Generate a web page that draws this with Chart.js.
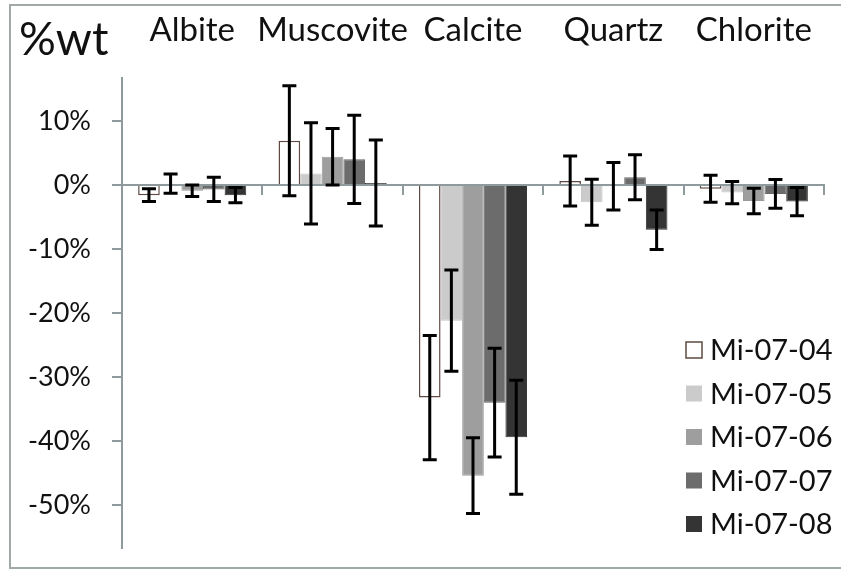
<!DOCTYPE html>
<html>
<head>
<meta charset="utf-8">
<script src="https://cdn.jsdelivr.net/npm/chart.js@4"></script>
<style>
  body { margin: 0; background: #fff; }
  #wrap { width: 841px; height: 570px; position: relative; }
</style>
</head>
<body>
<div id="wrap"><canvas id="chart"></canvas></div>
<script>
// categories and tick labels
const minerals = ['Albite', 'Muscovite', 'Calcite', 'Quartz', 'Chlorite'];
const yTicks = [10, 0, -10, -20, -30, -40, -50];
const sampleNames = ['Mi-07-04', 'Mi-07-05', 'Mi-07-06', 'Mi-07-07', 'Mi-07-08'];

// % change per sample
const mi0704 = [-1.6, 6.9, -33.2, 0.6, -0.6];
const mi0705 = [0.2, 1.8, -21.2, -2.7, -1.2];
const mi0706 = [-0.9, 4.4, -45.4, -0.2, -2.5];
const mi0707 = [-0.7, 4.0, -34.0, 1.2, -1.4];
const mi0708 = [-1.6, 0.3, -39.4, -7.0, -2.6];

// error bar half lengths
const err0704 = [1.0, 8.6, 9.7, 3.9, 2.1];
const err0705 = [1.5, 7.9, 7.9, 3.6, 1.75];
const err0706 = [0.9, 4.4, 5.9, 3.7, 2.0];
const err0707 = [1.9, 6.9, 8.5, 3.5, 2.25];
const err0708 = [1.2, 6.7, 8.9, 3.1, 2.2];

const seriesValues = [mi0704, mi0705, mi0706, mi0707, mi0708];
const seriesErrors = [err0704, err0705, err0706, err0707, err0708];
const fills = ['#ffffff', '#cbcbcb', '#9e9e9e', '#6c6c6c', '#343434'];
const borders = ['#5e4a42', '#c6c6c6', '#9a9a9a', '#686868', '#303030'];

const axisGray = '#8e9a9b';
const FONT = 'Lato, "Open Sans", sans-serif';

// error bars drawn on top of the bars
const errorBars = {
    id: 'errorBars',
    afterDatasetsDraw(chart) {
        const ctx = chart.ctx;
        const y = chart.scales.y;
        ctx.save();
        ctx.strokeStyle = '#000';
        ctx.lineWidth = 3;
        chart.data.datasets.forEach((ds, i) => {
            const meta = chart.getDatasetMeta(i);
            meta.data.forEach((bar, j) => {
                const v = ds.data[j];
                const e = seriesErrors[i][j];
                const top = y.getPixelForValue(v + e);
                const bot = y.getPixelForValue(v - e);
                ctx.beginPath();
                ctx.moveTo(bar.x, top);
                ctx.lineTo(bar.x, bot);
                ctx.moveTo(bar.x - 7, top);
                ctx.lineTo(bar.x + 7, top);
                ctx.moveTo(bar.x - 7, bot);
                ctx.lineTo(bar.x + 7, bot);
                ctx.stroke();
            });
        });
        ctx.restore();
    }
};

// frame, "%wt" heading and the legend box inside the plot
const extras = {
    id: 'extras',
    afterDraw(chart) {
        const ctx = chart.ctx;
        ctx.save();
        ctx.strokeStyle = '#a0a8a8';
        ctx.lineWidth = 2;
        ctx.strokeRect(10, 5, 850, 563);

        ctx.fillStyle = '#111';
        ctx.font = '46px ' + FONT;
        ctx.textBaseline = 'alphabetic';
        ctx.fillText('%wt', 19, 55);

        ctx.font = '29px ' + FONT;
        ctx.textBaseline = 'middle';
        chart.data.datasets.forEach((ds, i) => {
            const cy = 350 + i * 43.5;
            ctx.fillStyle = ds.backgroundColor;
            ctx.fillRect(686, cy - 8, 16, 16);
            if (i === 0) {
                ctx.strokeStyle = ds.borderColor;
                ctx.lineWidth = 1.5;
                ctx.strokeRect(686, cy - 8, 16, 16);
            }
            ctx.fillStyle = '#111';
            ctx.fillText(ds.label, 710, cy + 1);
        });
        ctx.restore();
    }
};

new Chart(document.getElementById('chart'), {
    type: 'bar',
    data: {
        labels: minerals,
        datasets: sampleNames.map((name, i) => ({
            label: name,
            data: seriesValues[i],
            backgroundColor: fills[i],
            borderColor: borders[i],
            borderWidth: i === 0 ? 1.5 : 1,
            categoryPercentage: 0.77,
            barPercentage: 1
        }))
    },
    options: {
        responsive: true,
        maintainAspectRatio: false,
        animation: false,
        layout: { padding: { top: 0, right: 17, bottom: 22, left: 0 } },
        plugins: {
            legend: { display: false },
            tooltip: { enabled: false }
        },
        scales: {
            x: {
                position: 'top',
                grid: { display: false },
                border: { display: false },
                ticks: { color: '#111', font: { family: FONT, size: 33 }, padding: 20, maxRotation: 0, autoSkip: false },
                afterFit(s) { s.height = 78; }
            },
            x2: {
                type: 'category',
                position: { y: 0 },
                offset: true,
                grid: { offset: true, drawOnChartArea: false, drawTicks: true, tickLength: 9, color: axisGray, lineWidth: 2 },
                border: { display: true, color: axisGray, width: 2 },
                ticks: { display: false },
                afterFit(s) { s.height = 0; }
            },
            y: {
                min: -56.7,
                max: 16.7,
                afterBuildTicks(s) { s.ticks = yTicks.map(v => ({ value: v })); },
                grid: { drawOnChartArea: false, tickLength: 10, color: axisGray, lineWidth: 2 },
                border: { display: true, color: axisGray, width: 2 },
                ticks: {
                    color: '#111',
                    font: { family: FONT, size: 27 },
                    padding: 21,
                    callback: v => v + '%'
                },
                afterFit(s) {
                    s.width = 122;
                    s.paddingTop = 0;
                    s.paddingBottom = 0;
                }
            }
        }
    },
    plugins: [errorBars, extras]
});
</script>
</body>
</html>
